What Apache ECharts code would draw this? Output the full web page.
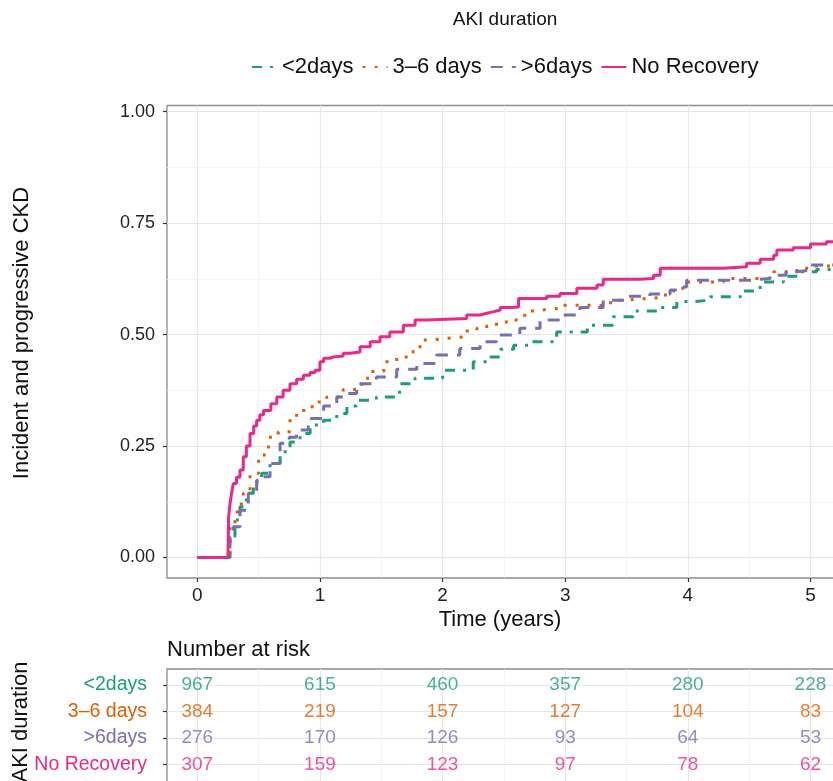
<!DOCTYPE html>
<html><head><meta charset="utf-8">
<script src="https://cdn.jsdelivr.net/npm/echarts@6/dist/echarts.min.js"></script>
<style>html,body{margin:0;padding:0;background:#fff}#c{width:833px;height:781px}</style>
</head><body><div id="c"></div>
<script>
// ---- data ----
const groupNames = ['<2days', '3–6 days', '>6days', 'No Recovery'];
const groupColors = ['#1B9E77', '#D95F02', '#7570B3', '#E7298A'];

const tLt2 = [0, 0.25, 0.267, 0.307, 0.348, 0.40, 0.457, 0.525, 0.593, 0.675, 0.756, 0.838, 0.92, 1.03, 1.137, 1.22, 1.3, 1.46, 1.65, 1.776, 2.0, 2.25, 2.36, 2.47, 2.58, 2.71, 2.93, 3.18, 3.39, 3.556, 3.775, 3.91, 4.04, 4.18, 4.43, 4.59, 4.78, 4.916, 5.05, 5.2];
const vLt2 = [0, 0, 0.039, 0.084, 0.114, 0.144, 0.17, 0.189, 0.211, 0.237, 0.259, 0.278, 0.297, 0.308, 0.323, 0.34, 0.353, 0.36, 0.39, 0.402, 0.42, 0.439, 0.45, 0.467, 0.476, 0.484, 0.506, 0.521, 0.54, 0.553, 0.561, 0.574, 0.577, 0.585, 0.598, 0.618, 0.631, 0.641, 0.646, 0.654];

const t36 = [0, 0.25, 0.267, 0.307, 0.34, 0.375, 0.43, 0.5, 0.58, 0.66, 0.756, 0.81, 0.89, 0.97, 1.03, 1.055, 1.19, 1.34, 1.41, 1.52, 1.626, 1.76, 1.816, 1.925, 2.0, 2.17, 2.28, 2.36, 2.44, 2.52, 2.62, 2.67, 2.78, 2.86, 2.958, 3.37, 3.475, 3.57, 3.775, 3.88, 3.94, 4.0, 4.29, 4.70, 4.89, 5.0, 5.2];
const v36 = [0, 0, 0.076, 0.102, 0.12, 0.144, 0.189, 0.23, 0.27, 0.282, 0.312, 0.33, 0.338, 0.349, 0.355, 0.36, 0.377, 0.402, 0.417, 0.439, 0.45, 0.469, 0.488, 0.491, 0.495, 0.508, 0.514, 0.519, 0.527, 0.533, 0.536, 0.553, 0.557, 0.559, 0.566, 0.577, 0.579, 0.583, 0.589, 0.598, 0.604, 0.618, 0.626, 0.641, 0.649, 0.654, 0.656];

const tGt6 = [0, 0.25, 0.267, 0.294, 0.348, 0.416, 0.484, 0.54, 0.593, 0.675, 0.75, 0.81, 0.905, 1.03, 1.137, 1.19, 1.3, 1.46, 1.626, 1.79, 1.95, 2.14, 2.306, 2.44, 2.63, 2.795, 2.958, 3.12, 3.31, 3.5, 3.69, 3.855, 3.94, 3.99, 4.5, 4.67, 4.8, 4.89, 5.0, 5.2];
const vGt6 = [0, 0, 0.046, 0.069, 0.106, 0.144, 0.173, 0.181, 0.211, 0.256, 0.27, 0.286, 0.312, 0.34, 0.36, 0.368, 0.39, 0.405, 0.422, 0.435, 0.454, 0.469, 0.484, 0.499, 0.514, 0.533, 0.544, 0.561, 0.577, 0.586, 0.591, 0.6, 0.607, 0.622, 0.626, 0.633, 0.641, 0.645, 0.656, 0.656];

const tNoRec = [0, 0.25, 0.255, 0.267, 0.28, 0.294, 0.32, 0.348, 0.375, 0.40, 0.43, 0.46, 0.484, 0.51, 0.54, 0.6, 0.648, 0.70, 0.756, 0.81, 0.865, 0.92, 0.96, 1.0, 1.03, 1.08, 1.11, 1.19, 1.245, 1.327, 1.41, 1.49, 1.57, 1.68, 1.776, 1.87, 2.197, 2.306, 2.36, 2.41, 2.47, 2.55, 2.62, 2.85, 2.958, 3.095, 3.26, 3.31, 3.61, 3.72, 3.775, 4.29, 4.48, 4.59, 4.70, 4.726, 4.86, 5.0, 5.13, 5.2];
const vNoRec = [0, 0, 0.09, 0.121, 0.145, 0.166, 0.18, 0.196, 0.226, 0.25, 0.278, 0.295, 0.308, 0.32, 0.33, 0.345, 0.36, 0.375, 0.39, 0.40, 0.409, 0.415, 0.42, 0.439, 0.447, 0.45, 0.452, 0.458, 0.461, 0.473, 0.484, 0.495, 0.506, 0.521, 0.533, 0.536, 0.544, 0.548, 0.551, 0.555, 0.561, 0.562, 0.581, 0.586, 0.592, 0.604, 0.611, 0.624, 0.626, 0.633, 0.649, 0.652, 0.66, 0.669, 0.678, 0.69, 0.695, 0.703, 0.708, 0.71];

const riskTimes = [0, 1, 2, 3, 4, 5];
const riskLt2 = [967, 615, 460, 357, 280, 228];
const risk36 = [384, 219, 157, 127, 104, 83];
const riskGt6 = [276, 170, 126, 93, 64, 53];
const riskNoRec = [307, 159, 123, 97, 78, 62];

const xTicks = [0, 1, 2, 3, 4, 5];
const xMinor = [0.5, 1.5, 2.5, 3.5, 4.5];
const yTicks = [0, 0.25, 0.5, 0.75, 1];
const yMinor = [0.125, 0.375, 0.625, 0.875];
const riskRows = [1, 2, 3, 4];

// ---- build ----
const FONT = '"Liberation Sans", Arial, Helvetica, sans-serif';
const curveT = [tLt2, t36, tGt6, tNoRec];
const curveV = [vLt2, v36, vGt6, vNoRec];
const riskVals = [riskLt2, risk36, riskGt6, riskNoRec];
const dashes = [[10, 8, 3, 8], [3, 9], [12, 9], 'solid'];

const zip = (a, b) => a.map((x, i) => [x, b[i]]);

const majorGrid = { show: true, lineStyle: { color: '#e6e6e6', width: 1.2 } };
const minorGrid = { show: true, lineStyle: { color: '#f3f3f3', width: 0.8 } };

const X_MIN = -0.247, X_MAX = 5.2;

const xAxes = [
  { gridIndex: 0, type: 'value', min: X_MIN, max: X_MAX,
    axisLine: { show: false, onZero: false },
    axisTick: { show: true, length: 4, customValues: xTicks, lineStyle: { color: '#333', width: 1.2 } },
    axisLabel: { customValues: xTicks, margin: 8, fontSize: 19, color: '#222', fontFamily: FONT },
    splitLine: majorGrid },
  { gridIndex: 0, type: 'value', min: X_MIN, max: X_MAX,
    axisLine: { show: false, onZero: false },
    axisTick: { show: false, customValues: xMinor },
    axisLabel: { show: false, customValues: xMinor },
    splitLine: minorGrid },
  { gridIndex: 1, type: 'value', min: X_MIN, max: X_MAX,
    axisLine: { show: false, onZero: false },
    axisTick: { show: false, customValues: xTicks },
    axisLabel: { show: false, customValues: xTicks },
    splitLine: majorGrid },
  { gridIndex: 1, type: 'value', min: X_MIN, max: X_MAX,
    axisLine: { show: false, onZero: false },
    axisTick: { show: false, customValues: xMinor },
    axisLabel: { show: false, customValues: xMinor },
    splitLine: minorGrid }
];

const yAxes = [
  { gridIndex: 0, type: 'value', min: -0.046, max: 1.0139,
    axisLine: { show: false, onZero: false },
    axisTick: { show: true, length: 4, customValues: yTicks, lineStyle: { color: '#333', width: 1.2 } },
    axisLabel: { customValues: yTicks, margin: 12, fontSize: 18, color: '#222', fontFamily: FONT,
      formatter: v => v.toFixed(2) },
    splitLine: majorGrid },
  { gridIndex: 0, type: 'value', min: -0.046, max: 1.0139,
    axisLine: { show: false, onZero: false },
    axisTick: { show: false, customValues: yMinor },
    axisLabel: { show: false, customValues: yMinor },
    splitLine: minorGrid },
  { gridIndex: 1, type: 'value', inverse: true, min: 0.4, max: 5.19,
    axisLine: { show: false, onZero: false },
    axisTick: { show: true, length: 4, customValues: riskRows, lineStyle: { color: '#333', width: 1.2 } },
    axisLabel: { customValues: riskRows, margin: 20, fontSize: 19.5, fontFamily: FONT,
      formatter: v => groupNames[Math.round(v) - 1],
      color: (v) => groupColors[Math.round(v) - 1] },
    splitLine: majorGrid }
];

const series = [];
groupNames.forEach((name, i) => {
  series.push({
    name: name, type: 'line', xAxisIndex: 0, yAxisIndex: 0,
    step: 'end', symbol: 'none', showSymbol: false, silent: true,
    data: zip(curveT[i], curveV[i]),
    lineStyle: { color: groupColors[i], width: 3, type: dashes[i], cap: 'butt' },
    itemStyle: { color: groupColors[i] },
    z: 3 + i
  });
});
groupNames.forEach((name, i) => {
  series.push({
    name: 'risk ' + name, type: 'scatter', xAxisIndex: 2, yAxisIndex: 2,
    symbolSize: 0, silent: true,
    itemStyle: { color: 'rgba(0,0,0,0)' },
    data: riskTimes.map((t, k) => [t, riskRows[i], riskVals[i][k]]),
    label: { show: true, position: 'inside', formatter: p => String(p.value[2]),
      color: groupColors[i], fontSize: 19, fontFamily: FONT }
  });
});

const option = {
  backgroundColor: '#fff',
  animation: false,
  textStyle: { fontFamily: FONT },
  grid: [
    { left: 167, width: 668, top: 105.5, height: 472.5, outerBoundsMode: 'none', containLabel: false,
      show: true, borderColor: '#8c8c8c', borderWidth: 1.3, backgroundColor: '#fff' },
    { left: 167, width: 668, top: 669, height: 127, outerBoundsMode: 'none', containLabel: false,
      show: true, borderColor: '#8c8c8c', borderWidth: 1.3, backgroundColor: '#fff' }
  ],
  legend: {
    data: groupNames, left: 246, top: 51, itemWidth: 25, itemHeight: 14, itemGap: 8,
    textStyle: { fontSize: 22, color: '#111', fontFamily: FONT },
    itemStyle: { color: 'rgba(0,0,0,0)', borderColor: 'rgba(0,0,0,0)', borderWidth: 0 },
    selectedMode: false
  },
  xAxis: xAxes,
  yAxis: yAxes,
  series: series,
  graphic: [
    { type: 'text', x: 505, y: 20, style: { text: 'AKI duration', fontSize: 19, fontFamily: FONT, fill: '#111', align: 'center', verticalAlign: 'middle' } },
    { type: 'text', x: 500, y: 620, style: { text: 'Time (years)', fontSize: 22, fontFamily: FONT, fill: '#111', align: 'center', verticalAlign: 'middle' } },
    { type: 'text', x: 22, y: 333, rotation: Math.PI / 2, style: { text: 'Incident and progressive CKD', fontSize: 22, fontFamily: FONT, fill: '#111', align: 'center', verticalAlign: 'middle' } },
    { type: 'text', x: 167, y: 650, style: { text: 'Number at risk', fontSize: 22, fontFamily: FONT, fill: '#111', align: 'left', verticalAlign: 'middle' } },
    { type: 'text', x: 21, y: 722, rotation: Math.PI / 2, style: { text: 'AKI duration', fontSize: 22, fontFamily: FONT, fill: '#111', align: 'center', verticalAlign: 'middle' } }
  ]
};

const chart = echarts.init(document.getElementById('c'), null, { renderer: 'canvas' });
chart.setOption(option);
</script>
</body></html>
